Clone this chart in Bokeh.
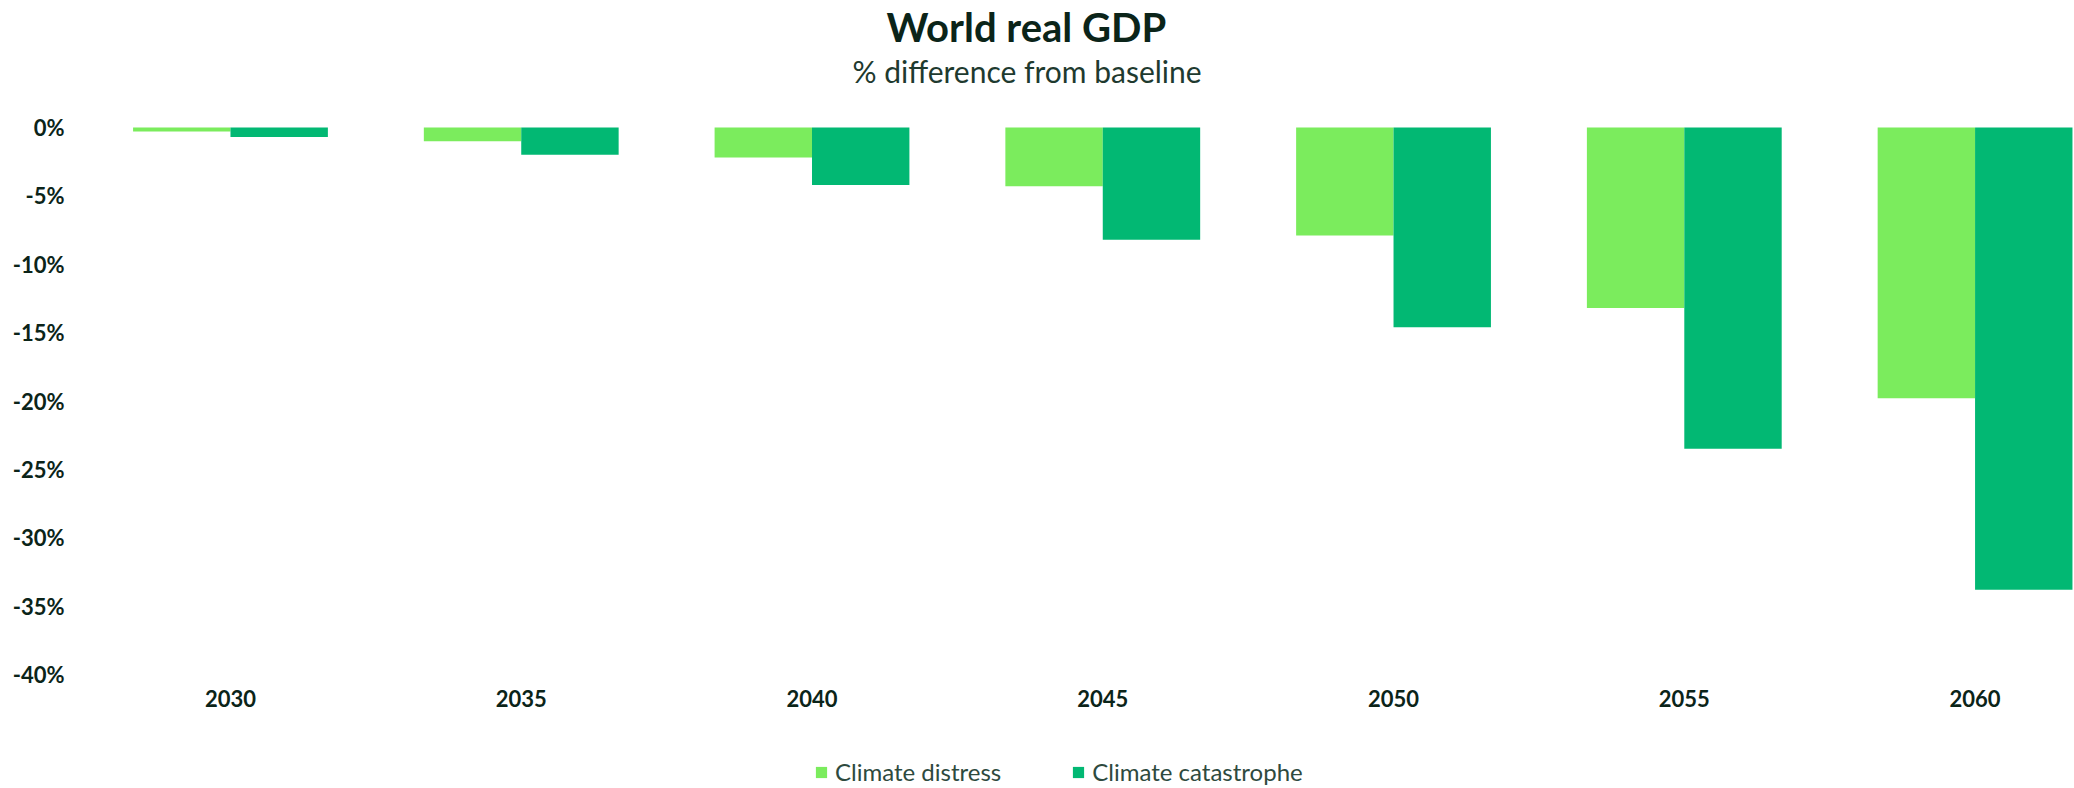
from bokeh.plotting import figure
from bokeh.models import (ColumnDataSource, Range1d, FixedTicker, Title, Legend,
                          LegendItem, PrintfTickFormatter)
from bokeh.transform import dodge
from bokeh.embed import file_html
from bokeh.resources import INLINE

years = [2030, 2035, 2040, 2045, 2050, 2055, 2060]
distress = [-0.3, -1.0, -2.2, -4.3, -7.9, -13.2, -19.8]
catastrophe = [-0.7, -2.0, -4.2, -8.2, -14.6, -23.5, -33.8]
y_ticks = [0, -5, -10, -15, -20, -25, -30, -35, -40]
series_names = ["Climate distress", "Climate catastrophe"]
colors = ["#7BEC5D", "#02B873"]

src = ColumnDataSource(dict(year=years, d=distress, c=catastrophe))

# 547 px of plot area hold the -40..0 scale; blank room above 0 and below -40
scale_px, extra_top, extra_bottom = 547, 39, 112
px_per_unit = scale_px / 40
y_start = -40 - extra_bottom / px_per_unit
y_end = extra_top / px_per_unit

p = figure(frame_width=1989, frame_height=scale_px + extra_top + extra_bottom,
           output_backend="svg", toolbar_location=None,
           x_range=Range1d(2027.507, 2061.71), y_range=Range1d(y_start, y_end),
           min_border_left=85, min_border_right=0, min_border_top=0,
           min_border_bottom=0, outline_line_color=None)

bw = 1.675
r1 = p.vbar(x=dodge("year", -bw / 2, range=p.x_range), top="d", bottom=0, width=bw,
            source=src, fill_color=colors[0], line_color=None)
r2 = p.vbar(x=dodge("year", bw / 2, range=p.x_range), top="c", bottom=0, width=bw,
            source=src, fill_color=colors[1], line_color=None)

p.xgrid.visible = False
p.ygrid.visible = False

dark = "#0B2419"
for ax in (p.xaxis[0], p.yaxis[0]):
    ax.axis_line_color = None
    ax.major_tick_line_color = None
    ax.minor_tick_line_color = None
    ax.major_tick_out = 0
    ax.major_tick_in = 0
    ax.minor_tick_out = 0
    ax.minor_tick_in = 0
    ax.major_label_text_font = "Lato"
    ax.major_label_text_font_style = "bold"
    ax.major_label_text_font_size = "22px"
    ax.major_label_text_color = dark

p.xaxis[0].ticker = FixedTicker(ticks=years)
p.xaxis[0].fixed_location = -40
p.xaxis[0].major_label_standoff = 15
p.yaxis[0].ticker = FixedTicker(ticks=y_ticks)
p.yaxis[0].formatter = PrintfTickFormatter(format="%d%%")
p.yaxis[0].major_label_standoff = 21

legend = Legend(items=[LegendItem(label=series_names[0], renderers=[r1]),
                       LegendItem(label=series_names[1], renderers=[r2])],
                orientation="horizontal", location=(729, 0),
                label_text_font="Lato", label_text_font_size="24px",
                label_text_color="#2E4A3E", glyph_width=14, glyph_height=14,
                label_standoff=7, spacing=70, border_line_color=None,
                padding=0, margin=0, background_fill_alpha=0)
p.add_layout(legend, "center")

p.add_layout(Title(text="% difference from baseline", align="left", offset=767,
                   text_font="Lato", text_font_size="30px", text_font_style="normal",
                   text_color="#1E3A2F", standoff=0), "above")
p.add_layout(Title(text="World real GDP", align="left", offset=801,
                   text_font="Lato", text_font_size="40px", text_font_style="bold",
                   text_color=dark, standoff=0), "above")

open("out.html", "w").write(file_html(p, INLINE))
